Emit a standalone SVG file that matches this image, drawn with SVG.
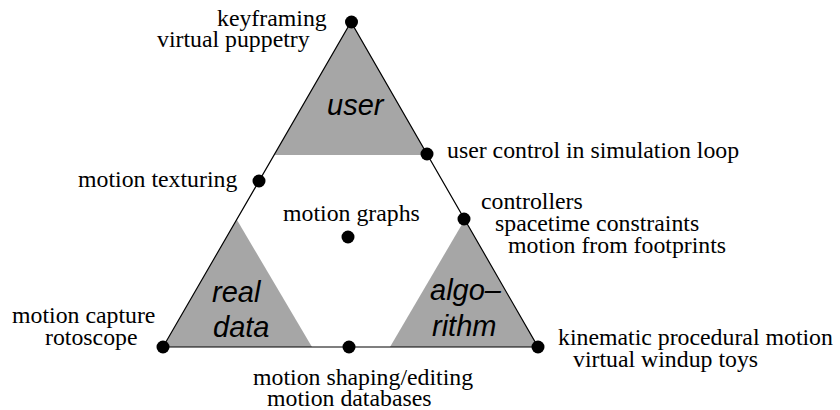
<svg xmlns="http://www.w3.org/2000/svg" width="840" height="410" viewBox="0 0 840 410">
<style>
.lbl{font-family:"Liberation Serif","Times New Roman",serif;font-size:23.8px;fill:#000}
.reg{font-family:"Liberation Sans",Arial,sans-serif;font-size:29px;font-style:italic;fill:#000}
.area{fill:#a6a6a6;stroke:none}
.dot{fill:#000}
.edge{stroke:#000;stroke-width:1.2;fill:none}
</style>
<rect width="840" height="410" fill="#fff"/>
<g id="regions">
<polygon class="area" points="351,22 274.5,155 427.5,155"/>
<polygon class="area" points="237,220 163,347 312,347"/>
<polygon class="area" points="464.5,220 538,347 390,347"/>
<text class="reg" x="327" y="115">user</text>
<text class="reg" x="212" y="302">real</text>
<text class="reg" x="213" y="337">data</text>
<text class="reg" x="430" y="300">algo–</text>
<text class="reg" x="432" y="336">rithm</text>
</g>
<g id="connectors">
<polyline class="edge" points="163,347 351,22 538,347 163,347"/>
</g>
<g id="n-top"><circle class="dot" cx="351.5" cy="22" r="6.5"/><text class="lbl" x="217" y="26">keyframing</text><text class="lbl" x="157" y="47">virtual puppetry</text></g>
<g id="n-user-control"><circle class="dot" cx="427" cy="154" r="6.5"/><text class="lbl" x="447" y="158">user control in simulation loop</text></g>
<g id="n-texturing"><circle class="dot" cx="259" cy="181" r="6.5"/><text class="lbl" x="78" y="187">motion texturing</text></g>
<g id="n-graphs"><circle class="dot" cx="348" cy="237" r="6.5"/><text class="lbl" x="283" y="221">motion graphs</text></g>
<g id="n-controllers"><circle class="dot" cx="464" cy="219" r="6.5"/><text class="lbl" x="481" y="209">controllers</text><text class="lbl" x="495" y="231">spacetime constraints</text><text class="lbl" x="508" y="253">motion from footprints</text></g>
<g id="n-capture"><circle class="dot" cx="163" cy="347" r="6.5"/><text class="lbl" x="12" y="323">motion capture</text><text class="lbl" x="45" y="345">rotoscope</text></g>
<g id="n-shaping"><circle class="dot" cx="349" cy="347" r="6.5"/><text class="lbl" x="253" y="385">motion shaping/editing</text><text class="lbl" x="267" y="406">motion databases</text></g>
<g id="n-kinematic"><circle class="dot" cx="538" cy="347" r="6.5"/><text class="lbl" x="558" y="345">kinematic procedural motion</text><text class="lbl" x="573" y="367">virtual windup toys</text></g>
</svg>
